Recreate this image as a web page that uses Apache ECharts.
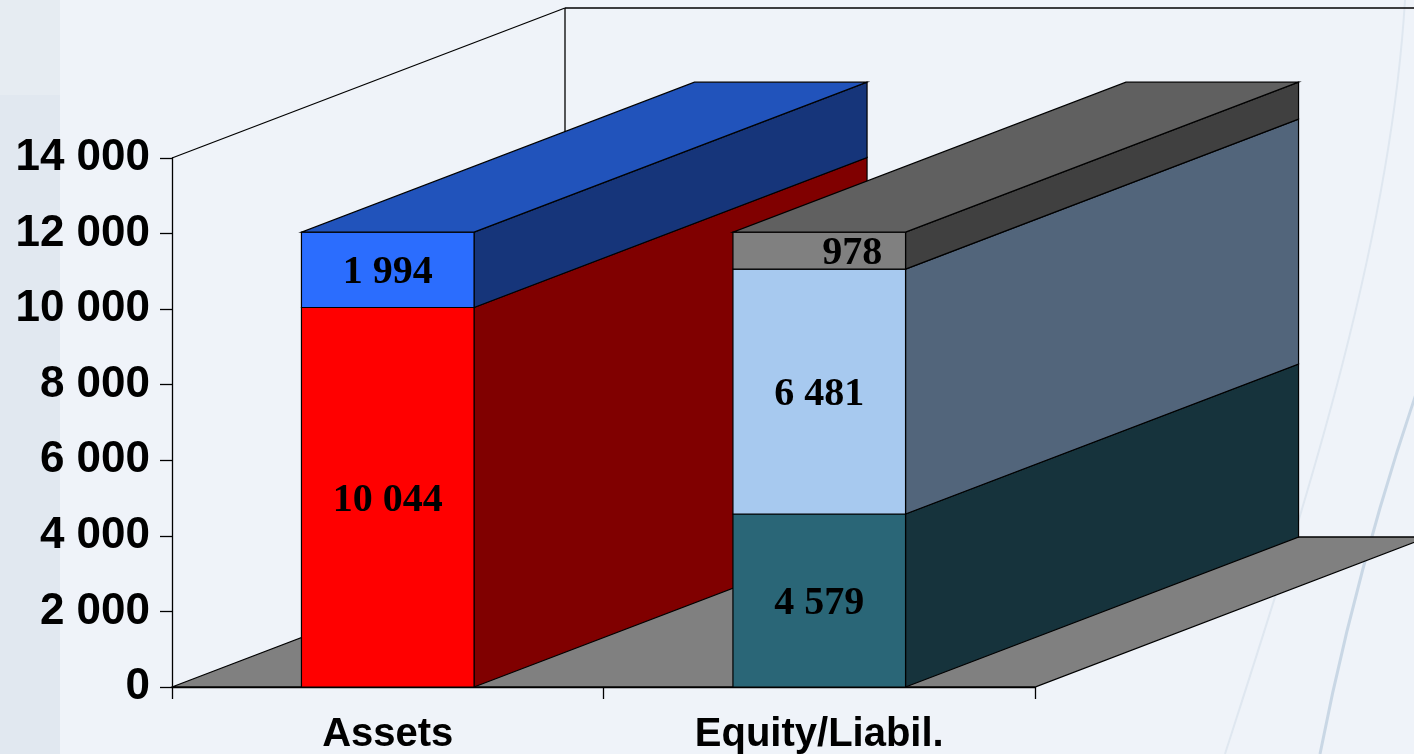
<!DOCTYPE html>
<html>
<head>
<meta charset="utf-8">
<script src="https://cdn.jsdelivr.net/npm/echarts@6/dist/echarts.min.js"></script>
<style>
  html, body { margin: 0; padding: 0; background: #eff3f9; }
  #main { width: 1414px; height: 754px; }
</style>
</head>
<body>
<div id="main"></div>
<script>
// categories and stacked segment values (bottom -> top)
var categories = ['Assets', 'Equity/Liabil.'];
var assetsValues = [10044, 1994];
var equityValues = [4579, 6481, 978];
var yMin = 0, yMax = 14000, yStep = 2000;

// face colours per segment: front, side, top
var assetsColors = [
  { front: '#ff0000', side: '#800000', top: '#a00000' },
  { front: '#2b6dfe', side: '#16357a', top: '#2153bb' }
];
var equityColors = [
  { front: '#2a6677', side: '#16333c', top: '#1f4d59' },
  { front: '#a7c9ef', side: '#52657b', top: '#7c96b3' },
  { front: '#808080', side: '#404040', top: '#606060', labelDx: 33 }
];

// 3d depth offset in px
var DX = 393, DY = -150;

function fmt(v) {
  return String(v).replace(/\B(?=(\d{3})+(?!\d))/g, ' ');
}

// build segment rows: [catIndex, start, end, segIndex, isTop, value]
var stacks = [assetsValues, equityValues];
var colorSets = [assetsColors, equityColors];
var segData = [];
stacks.forEach(function (vals, ci) {
  var acc = 0;
  vals.forEach(function (v, si) {
    segData.push([ci, acc, acc + v, si, si === vals.length - 1 ? 1 : 0, v]);
    acc += v;
  });
});

var chart = echarts.init(document.getElementById('main'));

function renderFrame(params, api) {
  var cs = params.coordSys;
  var x0 = cs.x, y0 = cs.y, w = cs.width, h = cs.height;
  var yb = y0 + h;
  var line = { stroke: '#000', lineWidth: 1.3, fill: null };
  return {
    type: 'group',
    children: [
      { type: 'polygon', shape: { points: [[x0, yb], [x0 + w, yb], [x0 + w + DX, yb + DY], [x0 + DX, yb + DY]] },
        style: { fill: '#808080', stroke: '#000', lineWidth: 1.3 } },
      { type: 'line', shape: { x1: x0, y1: y0, x2: x0 + DX, y2: y0 + DY }, style: line },
      { type: 'line', shape: { x1: x0 + DX, y1: y0 + DY, x2: x0 + DX, y2: yb + DY }, style: line },
      { type: 'line', shape: { x1: x0 + DX, y1: y0 + DY, x2: x0 + w + DX + 100, y2: y0 + DY }, style: line }
    ]
  };
}

function renderBar(params, api) {
  var ci = api.value(0), start = api.value(1), end = api.value(2);
  var si = api.value(3), isTop = api.value(4), val = api.value(5);
  var c = colorSets[ci][si];
  var p0 = api.coord([ci, start]);
  var p1 = api.coord([ci, end]);
  var bw = api.size([1, 0])[0] * 0.4;
  var xl = p0[0] - bw / 2, xr = p0[0] + bw / 2;
  var yb = p0[1], yt = p1[1];
  var edge = { stroke: '#000', lineWidth: 1.2 };
  var kids = [
    { type: 'polygon', shape: { points: [[xr, yb], [xr + DX, yb + DY], [xr + DX, yt + DY], [xr, yt]] },
      style: Object.assign({ fill: c.side }, edge) },
    { type: 'rect', shape: { x: xl, y: yt, width: bw, height: yb - yt },
      style: Object.assign({ fill: c.front }, edge) }
  ];
  if (isTop) {
    kids.push({ type: 'polygon', shape: { points: [[xl, yt], [xr, yt], [xr + DX, yt + DY], [xl + DX, yt + DY]] },
      style: Object.assign({ fill: c.top }, edge) });
  }
  kids.push({
    type: 'text',
    style: {
      x: p0[0] + (c.labelDx || 0), y: (yb + yt) / 2 + 3,
      text: fmt(val), align: 'center', verticalAlign: 'middle',
      font: 'bold 40px "Liberation Serif", serif', fill: '#000'
    }
  });
  return { type: 'group', children: kids };
}

var option = {
  backgroundColor: '#eff3f9',
  animation: false,
  graphic: [
    { type: 'rect', z: -10, shape: { x: 0, y: 0, width: 60, height: 754 }, style: { fill: '#e1e8f0' } },
    { type: 'rect', z: -9, shape: { x: 0, y: 0, width: 60, height: 95 }, style: { fill: '#e6ecf2' } },
    { type: 'bezierCurve', z: -8, shape: { x1: 1470, y1: 250, x2: 1320, y2: 754, cpx1: 1400, cpy1: 420, cpx2: 1350, cpy2: 600 },
      style: { stroke: '#c9d7e5', lineWidth: 3, fill: null } },
    { type: 'bezierCurve', z: -8, shape: { x1: 1405, y1: 0, x2: 1225, y2: 754, cpx1: 1390, cpy1: 250, cpx2: 1300, cpy2: 520 },
      style: { stroke: '#dfe7f0', lineWidth: 2, fill: null } }
  ],
  grid: { left: 172, right: 379, top: 158, bottom: 67, outerBoundsMode: 'none' },
  xAxis: {
    type: 'category',
    data: categories,
    boundaryGap: true,
    axisLine: { lineStyle: { color: '#000', width: 1.3 } },
    axisTick: { show: true, length: 12, alignWithLabel: false, lineStyle: { color: '#000', width: 1.3 } },
    axisLabel: { color: '#000', fontFamily: '"Liberation Sans", Arial, sans-serif', fontWeight: 'bold', fontSize: 40, margin: 28 },
    splitLine: { show: false }
  },
  yAxis: {
    type: 'value',
    min: yMin, max: yMax, interval: yStep,
    axisLine: { show: true, lineStyle: { color: '#000', width: 1.3 } },
    axisTick: { show: true, length: 12, lineStyle: { color: '#000', width: 1.3 } },
    axisLabel: { color: '#000', fontFamily: '"Liberation Sans", Arial, sans-serif', fontWeight: 'bold', fontSize: 44, margin: 22,
      formatter: function (v) { return fmt(v); } },
    splitLine: { show: false }
  },
  series: [
    { type: 'custom', name: 'frame', renderItem: renderFrame, data: [[0, 0]], z: 1, silent: true },
    { type: 'custom', name: 'bars', renderItem: renderBar, data: segData, encode: { x: 0, y: [1, 2] }, z: 3 }
  ]
};

chart.setOption(option);
</script>
</body>
</html>
